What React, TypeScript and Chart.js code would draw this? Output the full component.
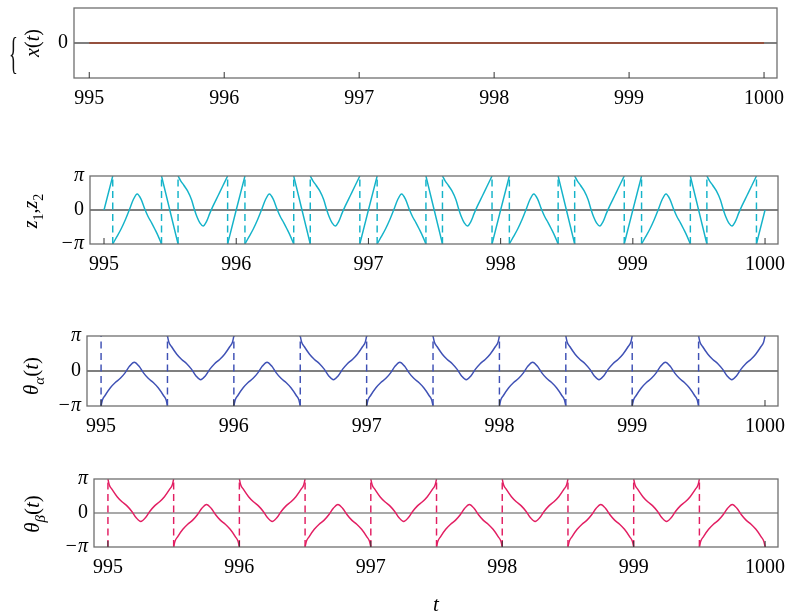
import React, { useEffect, useRef } from "react";
import { Chart, registerables } from "chart.js";

Chart.register(...registerables);

const FAMILY = "'Liberation Serif', 'Times New Roman', serif";

// ---------- data (values of angles in units of π) ----------
const X_TICKS = [995, 996, 997, 998, 999, 1000];
const PERIOD_STARTS = [995, 996, 997, 998, 999];

// x(t)
const XT_T = [995, 1000];
const XT_V = [0, 0];

// z1,z2 : one period (t offset from period start, value / π)
const Z_RISE_IN_T = [0, 0.066];
const Z_RISE_IN_V = [0, 1];
const Z_BUMP_T = [0.066, 0.095, 0.13, 0.163, 0.191, 0.221, 0.251, 0.28, 0.309, 0.334, 0.359, 0.384, 0.409, 0.435];
const Z_BUMP_V = [-1, -0.8, -0.55, -0.27, 0, 0.3, 0.47, 0.32, 0.02, -0.2, -0.37, -0.56, -0.76, -1];
const Z_FALL_T = [0.435, 0.4975, 0.56];
const Z_FALL_V = [1, 0, -1];
const Z_TROUGH_T = [0.56, 0.58, 0.605, 0.632, 0.662, 0.685, 0.703, 0.725, 0.75, 0.775, 0.8, 0.825, 0.85, 0.875, 0.9, 0.935];
const Z_TROUGH_V = [1, 0.86, 0.72, 0.56, 0.3, 0, -0.2, -0.38, -0.47, -0.34, -0.1, 0.12, 0.32, 0.52, 0.72, 1];
const Z_RISE_OUT_T = [0.935, 1];
const Z_RISE_OUT_V = [-1, 0];
const Z_WRAP_T = [0.066, 0.435, 0.56, 0.935];

// θα(t), θβ(t): two half-periods
const TH_A_T = [0, 0.01, 0.03, 0.07, 0.107, 0.145, 0.182, 0.215, 0.25, 0.285, 0.318, 0.355, 0.393, 0.43, 0.47, 0.49, 0.5];
const TH_B_T = [0.5, 0.51, 0.53, 0.57, 0.607, 0.645, 0.682, 0.715, 0.75, 0.785, 0.818, 0.855, 0.893, 0.93, 0.97, 0.99, 1];
const TALPHA_A_V = [-1, -0.83, -0.7, -0.48, -0.33, -0.21, -0.045, 0.14, 0.25, 0.14, -0.045, -0.21, -0.33, -0.48, -0.7, -0.83, -1];
const TALPHA_B_V = [1, 0.83, 0.7, 0.48, 0.33, 0.21, 0.045, -0.14, -0.25, -0.14, 0.045, 0.21, 0.33, 0.48, 0.7, 0.83, 1];
const TBETA_A_V = [1, 0.83, 0.7, 0.48, 0.33, 0.21, 0.045, -0.14, -0.25, -0.14, 0.045, 0.21, 0.33, 0.48, 0.7, 0.83, 1];
const TBETA_B_V = [-1, -0.83, -0.7, -0.48, -0.33, -0.21, -0.045, 0.14, 0.25, 0.14, -0.045, -0.21, -0.33, -0.48, -0.7, -0.83, -1];
const THETA_WRAP_T = [0, 0.5];

const PI_TICKS = [-1, 0, 1];
const PI_LABELS = ["\u2212\u03c0", "0", "\u03c0"];
const ZERO_TICKS = [0];
const ZERO_LABELS = ["0"];

// ---------- helpers ----------
type Pt = { x: number; y: number | null };

function buildSeries(segments: [number[], number[]][]): Pt[] {
  const out: Pt[] = [];
  for (const s of PERIOD_STARTS) {
    for (const [ts, vs] of segments) {
      ts.forEach((t, i) => out.push({ x: s + t, y: vs[i] }));
      out.push({ x: s + ts[ts.length - 1], y: null });
    }
  }
  return out;
}

function buildWraps(wraps: number[]): Pt[] {
  const out: Pt[] = [];
  for (const s of PERIOD_STARTS) {
    for (const w of wraps) {
      out.push({ x: s + w, y: -1 }, { x: s + w, y: 1 }, { x: s + w, y: null });
    }
  }
  return out;
}

type Part = { t: string; italic?: boolean; sub?: boolean };

interface Spec {
  top: number;
  height: number;
  left: number;
  right: number;
  areaTop: number;
  areaBottom: number;
  xMin: number;
  xMax: number;
  yTicks: number[];
  yLabels: string[];
  datasets: any[];
  title: Part[];
  titleX: number;
  titleY: number;
  titleSize: number;
  zeroColor: string;
  xTitle?: string;
  brace?: boolean;
}

const CYAN = "#14B3C9";
const INDIGO = "#3F51B5";
const PINK = "#E21E62";
const BROWN = "#9C4128";

function curve(data: Pt[], color: string) {
  return {
    data,
    borderColor: color,
    borderWidth: 1.45,
    pointRadius: 0,
    fill: false,
    spanGaps: false,
    cubicInterpolationMode: "monotone",
  };
}
function dashes(data: Pt[], color: string) {
  return {
    data,
    borderColor: color,
    borderWidth: 1.45,
    borderDash: [7, 4.5],
    pointRadius: 0,
    fill: false,
    spanGaps: false,
    tension: 0,
  };
}

const SPECS: Spec[] = [
  {
    top: 0, height: 125, left: 74, right: 777, areaTop: 8, areaBottom: 78,
    xMin: 994.887, xMax: 1000.096,
    yTicks: ZERO_TICKS, yLabels: ZERO_LABELS,
    datasets: [curve(XT_T.map((t, i) => ({ x: t, y: XT_V[i] })), BROWN)],
    title: [{ t: "x", italic: true }, { t: "(" }, { t: "t", italic: true }, { t: ")" }],
    titleX: 39, titleY: 43, titleSize: 20, zeroColor: "#000", brace: true,
  },
  {
    top: 125, height: 160, left: 90, right: 778, areaTop: 51, areaBottom: 119,
    xMin: 994.894, xMax: 1000.098,
    yTicks: PI_TICKS, yLabels: PI_LABELS,
    datasets: [
      curve(buildSeries([
        [Z_RISE_IN_T, Z_RISE_IN_V],
        [Z_BUMP_T, Z_BUMP_V],
        [Z_FALL_T, Z_FALL_V],
        [Z_TROUGH_T, Z_TROUGH_V],
        [Z_RISE_OUT_T, Z_RISE_OUT_V],
      ]), CYAN),
      dashes(buildWraps(Z_WRAP_T), CYAN),
    ],
    title: [{ t: "z", italic: true }, { t: "1", sub: true }, { t: "," }, { t: "z", italic: true }, { t: "2", sub: true }],
    titleX: 37, titleY: 86, titleSize: 20, zeroColor: "#000",
  },
  {
    top: 285, height: 160, left: 87, right: 778, areaTop: 51, areaBottom: 121,
    xMin: 994.894, xMax: 1000.098,
    yTicks: PI_TICKS, yLabels: PI_LABELS,
    datasets: [
      curve(buildSeries([[TH_A_T, TALPHA_A_V], [TH_B_T, TALPHA_B_V]]), INDIGO),
      dashes(buildWraps(THETA_WRAP_T), INDIGO),
    ],
    title: [{ t: "\u03b8", italic: true }, { t: "\u03b1", italic: true, sub: true }, { t: "(" }, { t: "t", italic: true }, { t: ")" }],
    titleX: 38, titleY: 91, titleSize: 21, zeroColor: "#000",
  },
  {
    top: 445, height: 171, left: 94, right: 778, areaTop: 34, areaBottom: 102,
    xMin: 994.894, xMax: 1000.098,
    yTicks: PI_TICKS, yLabels: PI_LABELS,
    datasets: [
      curve(buildSeries([[TH_A_T, TBETA_A_V], [TH_B_T, TBETA_B_V]]), PINK),
      dashes(buildWraps(THETA_WRAP_T), PINK),
    ],
    title: [{ t: "\u03b8", italic: true }, { t: "\u03b2", italic: true, sub: true }, { t: "(" }, { t: "t", italic: true }, { t: ")" }],
    titleX: 39, titleY: 69, titleSize: 21, zeroColor: "#555", xTitle: "t",
  },
];

function drawRotatedTitle(ctx: CanvasRenderingContext2D, parts: Part[], bx: number, cy: number, size: number) {
  ctx.save();
  ctx.translate(bx, cy);
  ctx.rotate(-Math.PI / 2);
  const fontOf = (p: Part) => `${p.italic ? "italic " : ""}${p.sub ? Math.round(size * 0.7) : size}px ${FAMILY}`;
  let total = 0;
  for (const p of parts) {
    ctx.font = fontOf(p);
    total += ctx.measureText(p.t).width;
  }
  let x = -total / 2;
  ctx.textBaseline = "alphabetic";
  ctx.textAlign = "left";
  ctx.fillStyle = "#000";
  for (const p of parts) {
    ctx.font = fontOf(p);
    ctx.fillText(p.t, x, p.sub ? size * 0.28 : 0);
    x += ctx.measureText(p.t).width;
  }
  ctx.restore();
}

function makeDecor(spec: Spec) {
  return {
    id: "panelDecor",
    beforeDatasetsDraw(chart: any) {
      const { ctx, chartArea } = chart;
      const y = chart.scales.y.getPixelForValue(0);
      ctx.save();
      ctx.strokeStyle = spec.zeroColor;
      ctx.lineWidth = 1.1;
      ctx.beginPath();
      ctx.moveTo(chartArea.left, y);
      ctx.lineTo(chartArea.right, y);
      ctx.stroke();
      ctx.restore();
    },
    afterDatasetsDraw(chart: any) {
      const { ctx, chartArea } = chart;
      ctx.save();
      ctx.strokeStyle = "#6f6f6f";
      ctx.lineWidth = 1.3;
      ctx.strokeRect(chartArea.left, chartArea.top, chartArea.right - chartArea.left, chartArea.bottom - chartArea.top);
      ctx.strokeStyle = "#333";
      ctx.lineWidth = 1;
      ctx.beginPath();
      for (const v of X_TICKS) {
        const px = chart.scales.x.getPixelForValue(v);
        ctx.moveTo(px, chartArea.bottom);
        ctx.lineTo(px, chartArea.bottom - 6);
      }
      ctx.stroke();
      ctx.restore();
    },
    afterDraw(chart: any) {
      const { ctx } = chart;
      drawRotatedTitle(ctx, spec.title, spec.titleX, spec.titleY, spec.titleSize);
      if (spec.brace) {
        ctx.save();
        ctx.translate(13.5, 59);
        ctx.scale(0.42, 1);
        ctx.font = `44px ${FAMILY}`;
        ctx.textAlign = "center";
        ctx.textBaseline = "middle";
        ctx.fillStyle = "#111";
        ctx.fillText("{", 0, -3);
        ctx.restore();
      }
    },
  };
}

function Panel({ spec }: { spec: Spec }) {
  const ref = useRef<HTMLCanvasElement>(null);
  useEffect(() => {
    const canvas = ref.current;
    if (!canvas) return;
    const chart = new Chart(canvas, {
      type: "line",
      data: { datasets: spec.datasets },
      options: {
        animation: false,
        responsive: false,
        events: [],
        layout: { padding: { top: spec.areaTop, right: 788 - spec.right, left: 0, bottom: 0 } },
        plugins: { legend: { display: false }, tooltip: { enabled: false } },
        scales: {
          x: {
            type: "linear",
            min: spec.xMin,
            max: spec.xMax,
            grid: { display: false, drawTicks: false },
            border: { display: false },
            afterBuildTicks: (sc: any) => {
              sc.ticks = X_TICKS.map((v) => ({ value: v }));
            },
            afterFit: (sc: any) => {
              sc.height = spec.height - spec.areaBottom;
              sc.paddingLeft = 0;
              sc.paddingRight = 0;
            },
            ticks: {
              autoSkip: false,
              maxRotation: 0,
              minRotation: 0,
              padding: 8.5,
              color: "#000",
              font: { size: 20, family: FAMILY },
              callback: (v: any) => String(v),
            },
            title: spec.xTitle
              ? {
                  display: true,
                  text: spec.xTitle,
                  color: "#000",
                  font: { size: 21, family: FAMILY, style: "italic" },
                  padding: { top: 0, bottom: -2 },
                }
              : { display: false },
          },
          y: {
            type: "linear",
            min: -1,
            max: 1,
            grid: { display: false, drawTicks: false },
            border: { display: false },
            afterBuildTicks: (sc: any) => {
              sc.ticks = spec.yTicks.map((v) => ({ value: v }));
            },
            afterFit: (sc: any) => {
              sc.width = spec.left;
              sc.paddingTop = 0;
              sc.paddingBottom = 0;
            },
            ticks: {
              padding: 6,
              color: "#000",
              font: (ctx: any) => ({
                size: 20,
                family: FAMILY,
                style: ctx.tick && ctx.tick.value !== 0 ? "italic" : "normal",
              }),
              callback: (v: any) => spec.yLabels[spec.yTicks.indexOf(v)],
            },
          },
        },
      } as any,
      plugins: [makeDecor(spec)],
    } as any);
    return () => chart.destroy();
  }, [spec]);
  return (
    <canvas
      ref={ref}
      width={788}
      height={spec.height}
      style={{ position: "absolute", left: 0, top: spec.top, width: 788, height: spec.height, display: "block" }}
    />
  );
}

export default function App() {
  return (
    <div style={{ position: "absolute", left: 0, top: 0, width: 788, height: 616, background: "#fff", overflow: "hidden" }}>
      {SPECS.map((s, i) => (
        <Panel key={i} spec={s} />
      ))}
    </div>
  );
}
